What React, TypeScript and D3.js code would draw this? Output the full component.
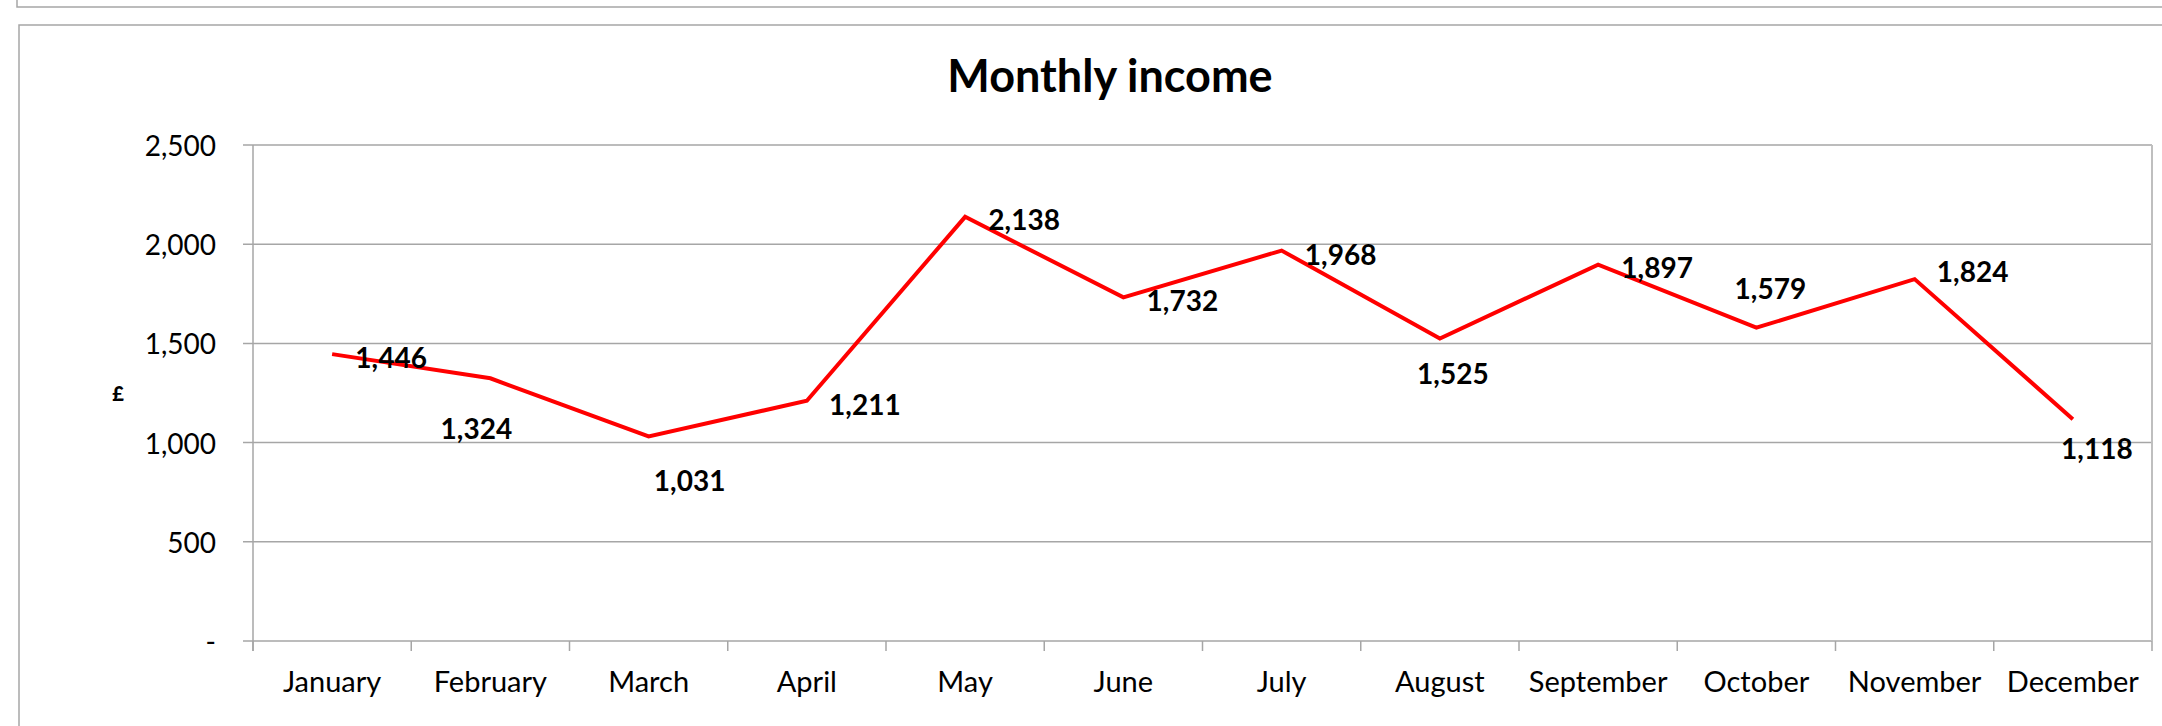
import React from "react";
import * as d3 from "d3";

const months = ["January","February","March","April","May","June","July","August","September","October","November","December"];
const income = [1446, 1324, 1031, 1211, 2138, 1732, 1968, 1525, 1897, 1579, 1824, 1118];
const yTicks = [0, 500, 1000, 1500, 2000, 2500];
const title = "Monthly income";
const yLabel = "£";
// label placement offsets (px) relative to each point
const labelDx = [59, -14, 41, 58, 59, 59, 59, 13, 59, 14, 58, 24];
const labelDy = [3, 50, 44, 3, 2, 3, 3, 35, 2, -40, -8, 29];

const W = 2162, H = 726;
const left = 253, right = 2152, top = 145, bottom = 641;
const FONT = "Lato, 'Open Sans', sans-serif";
const GRID = "#a6a6a6";

export default function App() {
  const x = d3.scaleBand<string>().domain(months).range([left, right]);
  const y = d3.scaleLinear().domain([0, 2500]).range([bottom, top]);
  const fmt = d3.format(",");
  const line = d3.line<number>().x((_, i) => (x(months[i]) as number) + x.bandwidth() / 2).y(d => y(d));
  const boundaries = months.map(m => x(m) as number).concat([right]);

  return (
    <svg width={W} height={H} style={{ position: "absolute", left: 0, top: 0, background: "#fff" }}>
      {/* upper box fragment */}
      <path d={`M17,0 V7 H${W}`} fill="none" stroke={GRID} strokeWidth={1.5} />
      {/* chart frame */}
      <path d={`M19,${H} V25 H${W}`} fill="none" stroke={GRID} strokeWidth={1.5} />
      <text x={1110} y={92} textAnchor="middle" fontFamily={FONT} fontWeight={700} fontSize={45} fill="#000">{title}</text>
      {/* gridlines */}
      {yTicks.map(t => (
        <line key={t} x1={left - 10} x2={right} y1={y(t)} y2={y(t)} stroke={GRID} strokeWidth={1.5} />
      ))}
      {/* plot right border */}
      <line x1={right} x2={right} y1={top} y2={bottom} stroke="#bfbfbf" strokeWidth={2} />
      {/* y axis */}
      <line x1={left} x2={left} y1={top} y2={bottom + 10} stroke={GRID} strokeWidth={1.5} />
      {/* x ticks */}
      {boundaries.map((b, i) => (
        <line key={i} x1={b} x2={b} y1={bottom} y2={bottom + 10} stroke={GRID} strokeWidth={1.5} />
      ))}
      {yTicks.map(t => (
        <text key={t} x={216} y={y(t)} textAnchor="end" dominantBaseline="central" fontFamily={FONT} fontSize={28} fill="#000">
          {t === 0 ? "-" : fmt(t)}
        </text>
      ))}
      <text x={118} y={(top + bottom) / 2} textAnchor="middle" dominantBaseline="central" fontFamily={FONT} fontWeight={900} fontSize={20} fill="#000">{yLabel}</text>
      {months.map(m => (
        <text key={m} x={(x(m) as number) + x.bandwidth() / 2} y={692} textAnchor="middle" fontFamily={FONT} fontSize={29} fill="#000">{m}</text>
      ))}
      <path d={line(income) || ""} fill="none" stroke="#ff0000" strokeWidth={4} strokeLinejoin="miter" />
      {income.map((v, i) => (
        <text key={i} x={(x(months[i]) as number) + x.bandwidth() / 2 + labelDx[i]} y={y(v) + labelDy[i]}
          textAnchor="middle" dominantBaseline="central" fontFamily={FONT} fontWeight={700} fontSize={28} fill="#000">
          {fmt(v)}
        </text>
      ))}
    </svg>
  );
}
